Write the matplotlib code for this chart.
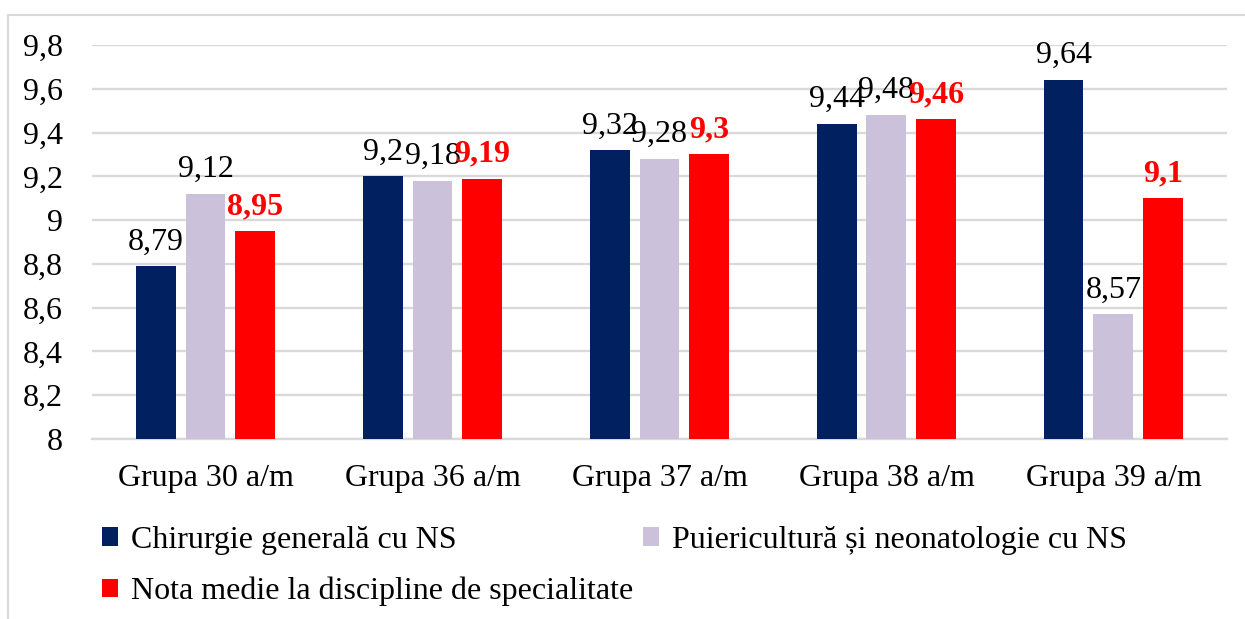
import numpy as np
import matplotlib
matplotlib.use("Agg")
import matplotlib.pyplot as plt
from matplotlib.patches import Rectangle
from matplotlib.ticker import FuncFormatter

groups = ["Grupa 30 a/m", "Grupa 36 a/m", "Grupa 37 a/m", "Grupa 38 a/m", "Grupa 39 a/m"]
chirurgie = [8.79, 9.2, 9.32, 9.44, 9.64]
puericultura = [9.12, 9.18, 9.28, 9.48, 8.57]
nota_medie = [8.95, 9.19, 9.3, 9.46, 9.1]
names = ["Chirurgie generală cu NS", "Puiericultură și neonatologie cu NS",
         "Nota medie la discipline de specialitate"]

plt.rcParams['font.family'] = ['Liberation Serif', 'DejaVu Serif']
fs = 23

def comma(v):
    return ('%g' % round(v, 2)).replace('.', ',')

fig = plt.figure(figsize=(12.45, 6.19), dpi=100)
ax = fig.add_axes([0.0739, 0.2908, 0.9116, 0.6365])

x = np.arange(len(groups))
w = 0.176
step = 0.22
cols = ["#002060", "#CCC1DA", "#FF0000"]
series = [chirurgie, puericultura, nota_medie]
for i, (vals, c, n) in enumerate(zip(series, cols, names)):
    b = ax.bar(x + (i - 1) * step, np.array(vals) - 8, w, bottom=8, color=c, label=n, zorder=3)
    if i == 2:
        ax.bar_label(b, labels=[comma(v) for v in vals], padding=7, fontsize=fs,
                     color="#FF0000", fontweight="bold")
    else:
        ax.bar_label(b, labels=[comma(v) for v in vals], padding=7, fontsize=fs, color="black")

ax.set_ylim(8, 9.8)
ax.set_xlim(-0.5, len(groups) - 0.5)
ax.set_yticks(np.arange(8, 9.81, 0.2))
ax.yaxis.set_major_formatter(FuncFormatter(lambda v, p: comma(v)))
ax.set_xticks(x)
ax.set_xticklabels(groups)
ax.tick_params(axis='both', length=0, labelsize=fs)
ax.tick_params(axis='y', pad=21)
ax.tick_params(axis='x', pad=18)
ax.grid(axis='y', color="#D9D9D9", lw=1.7, zorder=0)
for s in ["top", "right", "left"]:
    ax.spines[s].set_visible(False)
ax.spines["bottom"].set_color("#D9D9D9")
ax.spines["bottom"].set_linewidth(1.7)

h, l = ax.get_legend_handles_labels()
order = [0, 2, 1]
ax.legend([h[k] for k in order], [l[k] for k in order], ncol=2, loc="upper left",
          bbox_to_anchor=(0.0715, 0.171), bbox_transform=fig.transFigure,
          frameon=False, fontsize=fs, handlelength=0.5, handleheight=0.5,
          handletextpad=0.42, columnspacing=0.3, labelspacing=0.68, borderaxespad=0)

fig.patches.append(Rectangle((8 / 1245, -0.2), 1.2, 1.2 - 15 / 619, transform=fig.transFigure,
                             fill=False, edgecolor="#D9D9D9", lw=1.5))

fig.savefig("out.png", dpi=100)
